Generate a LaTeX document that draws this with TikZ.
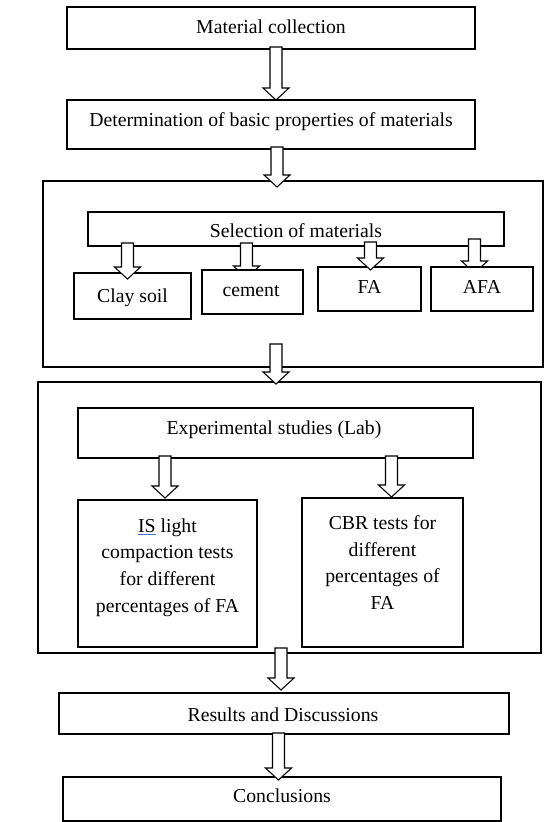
\documentclass[tikz,border=0pt]{standalone}
\usepackage{fontspec}
\setmainfont{Liberation Serif}
\usetikzlibrary{calc}
\definecolor{ulblue}{RGB}{70,110,210}
\pgfdeclarelayer{front}
\pgfsetlayers{main,front}
\tikzset{
  box/.style={draw=black, line width=0.8pt, inner sep=0pt, outer sep=0pt, rectangle},
  wbox/.style={box, fill=white},
  lbl/.style={inner sep=0pt, outer sep=0pt, font=\fontsize{14.8}{20}\selectfont, anchor=base, text=black},
  mlbl/.style={lbl, anchor=north, align=center},
  blockarr/.style={draw=black, line width=0.8pt, fill=white, line join=miter},
}
% #1 source node, #2 target node, #3 x (px), #4 start offset up into source (px), #5 tip offset down into target (px)
\newcommand\blockarrow[5]{%
  \draw[blockarr] let \p1=(#1.south), \p2=(#2.north), \p3=(#3,#4), \p4=(0,#5) in
  (\x3-4.5pt,\y1-\y3) -- (\x3-4.5pt,\y2+\y4+9pt) -- (\x3-9.75pt,\y2+\y4+9pt) -- (\x3,\y2+\y4)
  -- (\x3+9.75pt,\y2+\y4+9pt) -- (\x3+4.5pt,\y2+\y4+9pt) -- (\x3+4.5pt,\y1-\y3) -- cycle;}
\begin{document}
\begin{tikzpicture}[x=0.75pt,y=-0.75pt]
\useasboundingbox (0,0) rectangle (544,822);
% outer frames
\node[box, minimum width=375pt, minimum height=139.5pt] (big1) at (293,274) {};
\node[box, minimum width=377.25pt, minimum height=203.25pt] (big2) at (289.5,517.5) {};
% boxes
\node[box, minimum width=306pt, minimum height=31.5pt] (b1) at (271,28) {};
\node[box, minimum width=306pt, minimum height=36.75pt] (b2) at (271,124.5) {};
\node[box, minimum width=312pt, minimum height=25.5pt] (sel) at (296,229) {};
\node[box, minimum width=87.75pt, minimum height=34.5pt] (clay) at (132.5,296) {};
\node[box, minimum width=77.25pt, minimum height=33pt] (fa) at (369.5,289) {};
\begin{pgfonlayer}{front}
\node[wbox, minimum width=75.75pt, minimum height=33pt] (cement) at (252.5,292) {};
\node[wbox, minimum width=76.5pt, minimum height=33pt] (afa) at (482,289) {};
\node[lbl] (tcem) at (251,296) {cement};
\node[lbl] (tafa) at (482,293) {AFA};
\end{pgfonlayer}
\node[box, minimum width=296.25pt, minimum height=37.5pt] (exp) at (275.5,433) {};
\node[box, minimum width=134.25pt, minimum height=110.25pt] (is) at (167.5,573.5) {};
\node[box, minimum width=120.75pt, minimum height=111.75pt] (cbr) at (382.5,572.5) {};
\node[box, minimum width=337.5pt, minimum height=30.75pt] (res) at (284,713.5) {};
\node[box, minimum width=328.5pt, minimum height=33pt] (con) at (282,799) {};
% texts
\node[lbl] (t1) at (271,33) {Material collection};
\node[lbl] (t2) at (271,126) {Determination of basic properties of materials};
\node[lbl] (tsel) at (296,237) {Selection of materials};
\node[lbl] (tclay) at (132.5,302) {Clay soil};
\node[lbl] (tfa) at (369.5,293) {FA};
\node[lbl] (texp) at (274,434) {Experimental studies (Lab)};
\node[mlbl] (tis) at (167.5,518.5) {{\color{ulblue}\underline{\color{black}IS}} light\\compaction tests\\for different\\percentages of FA};
\node[mlbl] (tcbr) at (382.5,515.5) {CBR tests for\\different\\percentages of\\FA};
\node[lbl] (tres) at (283,721) {Results and Discussions};
\node[lbl] (tcon) at (282,802) {Conclusions};
% block arrows
\blockarrow{b1}{b2}{276}{2}{0}
\blockarrow{b2}{big1}{277}{2}{6}
\blockarrow{sel}{clay}{127.5}{3}{6}
\blockarrow{sel}{cement}{246.5}{3}{8}
\blockarrow{sel}{fa}{370.5}{4}{3}
\blockarrow{sel}{afa}{474.5}{7}{6}
\blockarrow{big1}{big2}{276}{23}{2}
\blockarrow{exp}{is}{165}{2}{-2}
\blockarrow{exp}{cbr}{391.5}{2}{-1}
\blockarrow{big2}{res}{281}{5}{-3}
\blockarrow{res}{con}{278.5}{1}{3}
\end{tikzpicture}
\end{document}
